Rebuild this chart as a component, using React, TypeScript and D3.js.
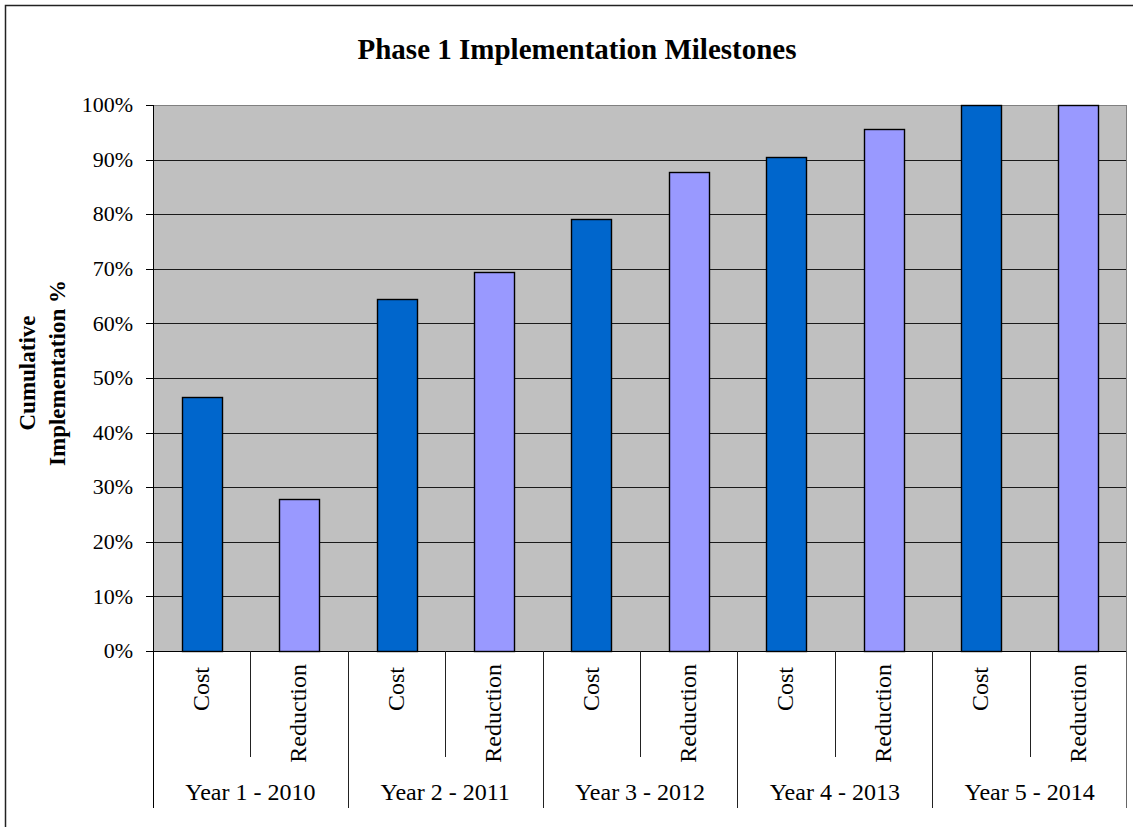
import * as d3 from "d3";

const years = ["Year 1 - 2010", "Year 2 - 2011", "Year 3 - 2012", "Year 4 - 2013", "Year 5 - 2014"];
const seriesNames = ["Cost", "Reduction"];
const costValues = [46.5, 64.5, 79.1, 90.4, 100];
const reductionValues = [27.8, 69.5, 87.8, 95.6, 100];
const yTicks = [0, 10, 20, 30, 40, 50, 60, 70, 80, 90, 100];

const W = 1133;
const H = 827;
const left = 153;
const right = 1127;
const top = 105;
const bottom = 651;

const colors: Record<string, string> = { Cost: "#0066CC", Reduction: "#9999FF" };
const font = "'Liberation Serif', 'Times New Roman', serif";

export default function App() {
  // flatten year x series into 10 slots
  const slots = years.flatMap((yr, i) =>
    seriesNames.map((s) => ({
      key: `${yr}|${s}`,
      year: yr,
      series: s,
      value: s === "Cost" ? costValues[i] : reductionValues[i],
    }))
  );

  const x = d3
    .scaleBand<string>()
    .domain(slots.map((d) => d.key))
    .range([left, right])
    .paddingInner(0.59)
    .paddingOuter(0.295);
  const step = x.step();
  const y = d3.scaleLinear().domain([0, 100]).range([bottom, top]);

  const slotCenter = (k: string) => (x(k) ?? 0) + x.bandwidth() / 2;

  return (
    <svg
      width={W}
      height={H}
      style={{ position: "absolute", left: 0, top: 0, background: "#fff", display: "block", overflow: "hidden" }}
      fontFamily={font}
    >
      <rect x={5.5} y={5.5} width={W + 20} height={H + 20} fill="#fff" stroke="#222" strokeWidth={1.5} />

      <text x={577} y={59} textAnchor="middle" fontSize={29} fontWeight="bold" fill="#000">
        Phase 1 Implementation Milestones
      </text>

      {/* plot background */}
      <rect x={left} y={top} width={right - left} height={bottom - top} fill="#C0C0C0" />

      {/* gridlines */}
      {yTicks
        .filter((t) => t > 0 && t < 100)
        .map((t) => (
          <line key={t} x1={left} x2={right} y1={Math.round(y(t)) + 0.5} y2={Math.round(y(t)) + 0.5} stroke="#1a1a1a" strokeWidth={1.2} />
        ))}
      <line x1={left} x2={right} y1={top + 0.5} y2={top + 0.5} stroke="#808080" strokeWidth={1} />
      <line x1={right - 0.5} x2={right - 0.5} y1={top} y2={bottom} stroke="#808080" strokeWidth={1} />

      {/* bars */}
      {slots.map((d) => (
        <rect
          key={d.key}
          x={Math.round(x(d.key) ?? 0) + 0.5}
          y={Math.round(y(d.value)) + 0.5}
          width={Math.round(x.bandwidth())}
          height={Math.round(bottom - y(d.value))}
          fill={colors[d.series]}
          stroke="#000"
          strokeWidth={1.4}
        />
      ))}

      {/* y axis */}
      <line x1={left + 0.5} x2={left + 0.5} y1={top} y2={808} stroke="#000" strokeWidth={1} />
      {yTicks.map((t) => (
        <g key={t}>
          <line x1={left - 7} x2={left} y1={Math.round(y(t)) + 0.5} y2={Math.round(y(t)) + 0.5} stroke="#000" />
          <text x={133} y={y(t)} dy="0.33em" textAnchor="end" fontSize={22} fill="#000">
            {t}%
          </text>
        </g>
      ))}

      {/* x axis */}
      <line x1={left} x2={right} y1={bottom + 0.5} y2={bottom + 0.5} stroke="#000" strokeWidth={1} />
      {d3.range(1, slots.length).map((i) => (
        <line
          key={i}
          x1={Math.round(left + i * step) + 0.5}
          x2={Math.round(left + i * step) + 0.5}
          y1={bottom}
          y2={i % 2 === 0 ? 808 : 757}
          stroke="#222"
          strokeWidth={1}
        />
      ))}
      <line x1={right - 0.5} x2={right - 0.5} y1={bottom} y2={808} stroke="#666" strokeWidth={1} />

      {slots.map((d) => (
        <text
          key={d.key}
          transform={`translate(${slotCenter(d.key)},${d.series === "Cost" ? 667 : 664}) rotate(-90)`}
          dy="0.3em"
          textAnchor="end"
          fontSize={24}
          fill="#000"
        >
          {d.series}
        </text>
      ))}
      {years.map((yr, i) => (
        <text key={yr} x={left + (i * 2 + 1) * step} y={800} textAnchor="middle" fontSize={24} fill="#000">
          {yr}
        </text>
      ))}

      {/* y axis title */}
      <g transform={`translate(0,373) rotate(-90)`} fontSize={23} fontWeight="bold" fill="#000">
        <text x={0} y={35} textAnchor="middle">Cumulative</text>
        <text x={0} y={65} textAnchor="middle">Implementation %</text>
      </g>
    </svg>
  );
}
